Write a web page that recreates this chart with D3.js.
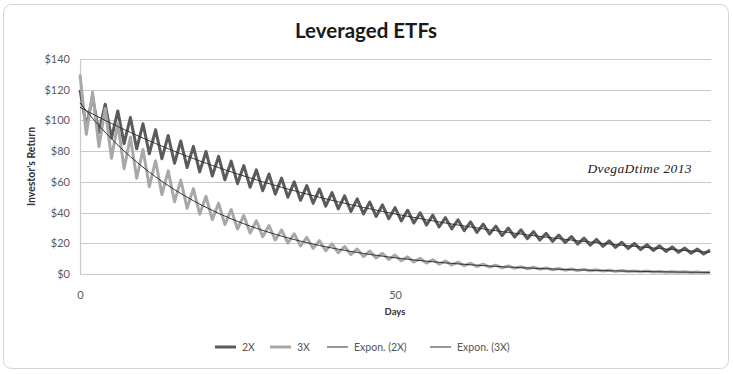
<!DOCTYPE html>
<html>
<head>
<meta charset="utf-8">
<script src="https://cdn.jsdelivr.net/npm/d3@7"></script>
<style>
    body { margin: 0; background: #fff; }
    svg text { font-family: Lato, "Open Sans", sans-serif; }
</style>
</head>
<body>
<div id="chart"></div>
<script>
// days on the category axis
const days = d3.range(0, 101);

// value of $100 invested
const lev2x = [120.0, 96.0, 115.2, 92.2, 110.6, 88.5, 106.2, 84.9, 101.9, 81.5, 97.8, 78.3, 93.9, 75.1, 90.2, 72.1,
    86.6, 69.3, 83.1, 66.5, 79.8, 63.8, 76.6, 61.3, 73.5, 58.8, 70.6, 56.5, 67.8, 54.2, 65.1, 52.0, 62.4, 50.0,
    60.0, 48.0, 57.6, 46.0, 55.3, 44.2, 53.0, 42.4, 50.9, 40.7, 48.9, 39.1, 46.9, 37.5, 45.0, 36.0, 43.2, 34.6,
    41.5, 33.2, 39.9, 31.9, 38.3, 30.6, 36.7, 29.4, 35.3, 28.2, 33.9, 27.1, 32.5, 26.0, 31.2, 25.0, 29.9, 24.0,
    28.8, 23.0, 27.6, 22.1, 26.5, 21.2, 25.4, 20.4, 24.4, 19.5, 23.4, 18.8, 22.5, 18.0, 21.6, 17.3, 20.7, 16.6,
    19.9, 15.9, 19.1, 15.3, 18.4, 14.7, 17.6, 14.1, 16.9, 13.5, 16.2, 13.0, 15.6];

const lev3x = [130.0, 91.0, 118.3, 82.8, 107.7, 75.4, 98.0, 68.6, 89.1, 62.4, 81.1, 56.8, 73.8, 51.7, 67.2, 47.0,
    61.1, 42.8, 55.6, 38.9, 50.6, 35.4, 46.1, 32.2, 41.9, 29.3, 38.1, 26.7, 34.7, 24.3, 31.6, 22.1, 28.7, 20.1,
    26.2, 18.3, 23.8, 16.7, 21.7, 15.2, 19.7, 13.8, 17.9, 12.6, 16.3, 11.4, 14.9, 10.4, 13.5, 9.5, 12.3, 8.6,
    11.2, 7.8, 10.2, 7.1, 9.3, 6.5, 8.4, 5.9, 7.7, 5.4, 7.0, 4.9, 6.4, 4.5, 5.8, 4.0, 5.3, 3.7, 4.8, 3.4,
    4.4, 3.1, 4.0, 2.8, 3.6, 2.5, 3.3, 2.3, 3.0, 2.1, 2.7, 1.9, 2.5, 1.7, 2.3, 1.6, 2.0, 1.4, 1.9, 1.3,
    1.7, 1.2, 1.5, 1.1, 1.4, 1.0, 1.3, 0.9, 1.2];

const yTicks = [0, 20, 40, 60, 80, 100, 120, 140];
const xTicks = [0, 50];
const legendItems = ["2X", "3X", "Expon. (2X)", "Expon. (3X)"];

const W = 733, H = 374;
const margin = { top: 59, right: 23, bottom: 100, left: 80 };

const svg = d3.select("#chart")
    .append("svg")
    .attr("width", W)
    .attr("height", H);

// chart frame
svg.append("rect")
    .attr("x", 3.5).attr("y", 4.5)
    .attr("width", W - 8).attr("height", H - 10)
    .attr("rx", 8)
    .style("fill", "#fff")
    .style("stroke", "#d4d4d4");

const x = d3.scaleLinear().domain([0, 100]).range([margin.left, W - margin.right]);
const y = d3.scaleLinear().domain([0, 140]).range([H - margin.bottom, margin.top]);

// gridlines
svg.append("g")
    .selectAll("line")
    .data(yTicks)
    .enter()
    .append("line")
    .attr("x1", x(0)).attr("x2", x(100) + 1)
    .attr("y1", d => Math.round(y(d)) + 0.5).attr("y2", d => Math.round(y(d)) + 0.5)
    .style("stroke", "#c9c9c9")
    .style("stroke-width", 1.2);

// y axis
svg.append("g")
    .attr("class", "y axis")
    .attr("transform", `translate(${x(0)},0)`)
    .call(d3.axisLeft(y).tickValues(yTicks).tickFormat(d => "$" + d).tickSize(0).tickPadding(10))
    .call(g => g.select(".domain").style("stroke", "#c9c9c9").style("stroke-width", 1.2))
    .call(g => g.selectAll("text").style("font-size", "11px").style("fill", "#5a5a5a"));

// x axis
svg.append("g")
    .attr("class", "x axis")
    .attr("transform", `translate(0,${y(0)})`)
    .call(d3.axisBottom(x).tickValues(xTicks).tickSize(0).tickPadding(17))
    .call(g => g.select(".domain").remove())
    .call(g => g.selectAll("text").style("font-size", "11px").style("fill", "#5a5a5a"));

// series
const line = d3.line()
    .x((d, i) => x(days[i]))
    .y(d => y(d));

svg.append("path")
    .datum(lev2x)
    .attr("d", line)
    .style("fill", "none")
    .style("stroke", "#5b5b5b")
    .style("stroke-width", 3)
    .style("stroke-linejoin", "round");

svg.append("path")
    .datum(lev3x)
    .attr("d", line)
    .style("fill", "none")
    .style("stroke", "#a8a8a8")
    .style("stroke-width", 3)
    .style("stroke-linejoin", "round");

// exponential trendlines, least squares on ln(value)
function expFit(vals) {
    const lx = days, ly = vals.map(v => Math.log(v));
    const mx = d3.mean(lx), my = d3.mean(ly);
    let sxy = 0, sxx = 0;
    lx.forEach((d, i) => { sxy += (d - mx) * (ly[i] - my); sxx += (d - mx) * (d - mx); });
    const b = sxy / sxx, a = my - b * mx;
    return days.map(d => Math.exp(a + b * d));
}

[lev2x, lev3x].forEach(s => {
    svg.append("path")
        .datum(expFit(s))
        .attr("d", line)
        .style("fill", "none")
        .style("stroke", "#333")
        .style("stroke-width", 1);
});

// titles
svg.append("text")
    .attr("x", 366).attr("y", 38)
    .attr("text-anchor", "middle")
    .style("font-size", "20.5px")
    .style("font-weight", "bold")
    .style("fill", "#1a1a1a")
    .text("Leveraged ETFs");

svg.append("text")
    .attr("transform", `translate(35,${(y(0) + y(140)) / 2}) rotate(-90)`)
    .attr("text-anchor", "middle")
    .style("font-size", "10.5px")
    .style("font-weight", "bold")
    .style("fill", "#333")
    .text("Investor's Return");

svg.append("text")
    .attr("x", (x(0) + x(100)) / 2).attr("y", 315)
    .attr("text-anchor", "middle")
    .style("font-size", "9.5px")
    .style("font-weight", "bold")
    .style("fill", "#333")
    .text("Days");

svg.append("text")
    .attr("x", 692).attr("y", 173)
    .attr("text-anchor", "end")
    .style("font-family", "'Liberation Serif', 'DejaVu Serif', serif")
    .style("font-style", "italic")
    .style("font-size", "13.5px")
    .style("letter-spacing", "0.4px")
    .style("fill", "#222")
    .text("DvegaDtime  2013");

// legend
const legendX = [215, 270, 327, 430];
const legendStyle = [
    { stroke: "#5b5b5b", w: 3 },
    { stroke: "#a8a8a8", w: 3 },
    { stroke: "#333", w: 1 },
    { stroke: "#333", w: 1 }
];
const legend = svg.append("g").attr("class", "legend");
legendItems.forEach((t, i) => {
    const g = legend.append("g").attr("transform", `translate(${legendX[i]},347)`);
    g.append("line")
        .attr("x1", 0).attr("x2", 21)
        .style("stroke", legendStyle[i].stroke)
        .style("stroke-width", legendStyle[i].w);
    g.append("text")
        .attr("x", 27).attr("y", 4)
        .style("font-size", "10.5px")
        .style("fill", "#555")
        .text(t);
});
</script>
</body>
</html>
